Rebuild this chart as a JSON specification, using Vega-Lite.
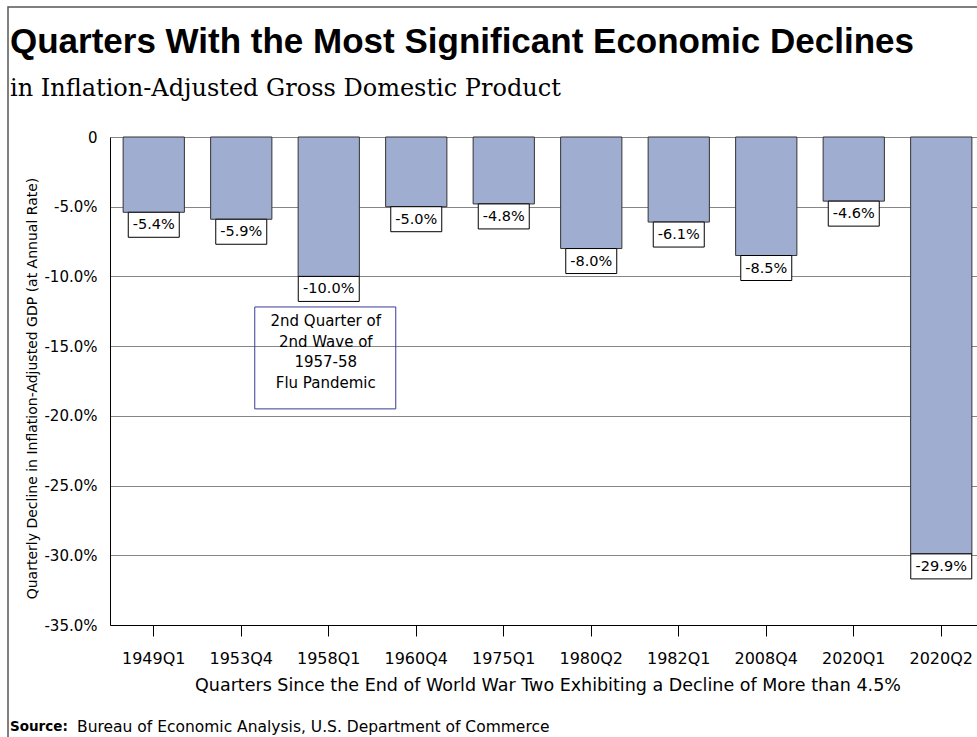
{
  "$schema": "https://vega.github.io/schema/vega-lite/v6.json",
  "width": 875,
  "height": 488,
  "autosize": {"type": "none"},
  "padding": {"left": 110, "top": 137, "right": 0, "bottom": 112},
  "background": "white",
  "config": {
    "locale": {"number": {"decimal": ".", "thousands": ",", "grouping": [3], "currency": ["$", ""], "minus": "-"}},
    "view": {"stroke": null},
    "font": "DejaVu Sans"
  },
  "title": {
    "text": "Quarters With the Most Significant Economic Declines",
    "subtitle": "in Inflation-Adjusted Gross Domestic Product",
    "anchor": "start",
    "frame": "group",
    "dx": -100,
    "offset": -95,
    "font": "Liberation Sans",
    "fontSize": 35,
    "fontWeight": "bold",
    "color": "black",
    "subtitleFont": "DejaVu Serif",
    "subtitleFontSize": 24,
    "subtitleColor": "black",
    "subtitlePadding": 17
  },
  "data": {
    "values": [
      {"quarter": "1949Q1", "decline": -0.054},
      {"quarter": "1953Q4", "decline": -0.059},
      {"quarter": "1958Q1", "decline": -0.100},
      {"quarter": "1960Q4", "decline": -0.050},
      {"quarter": "1975Q1", "decline": -0.048},
      {"quarter": "1980Q2", "decline": -0.080},
      {"quarter": "1982Q1", "decline": -0.061},
      {"quarter": "2008Q4", "decline": -0.085},
      {"quarter": "2020Q1", "decline": -0.046},
      {"quarter": "2020Q2", "decline": -0.299}
    ]
  },
  "encoding": {
    "x": {
      "field": "quarter",
      "type": "nominal",
      "sort": null,
      "scale": {"paddingInner": 0.3, "paddingOuter": 0.15},
      "axis": {
        "title": "Quarters Since the End of World War Two Exhibiting a Decline of More than 4.5%",
        "labelAngle": 0,
        "labelFont": "DejaVu Sans",
        "labelFontSize": 16,
        "labelColor": "black",
        "labelPadding": 14,
        "ticks": true,
        "tickSize": 11,
        "tickColor": "black",
        "domainColor": "black",
        "titleFont": "DejaVu Sans",
        "titleFontSize": 17.5,
        "titleFontWeight": "normal",
        "titleColor": "black",
        "titlePadding": 10
      }
    }
  },
  "layer": [
    {
      "mark": {"type": "bar", "fill": "#9eadd0", "stroke": "#333333", "strokeWidth": 1},
      "encoding": {
        "y": {
          "field": "decline",
          "type": "quantitative",
          "scale": {"domain": [-0.35, 0], "nice": false},
          "axis": {
            "title": "Quarterly Decline in Inflation-Adjusted GDP (at Annual Rate)",
            "values": [0, -0.05, -0.1, -0.15, -0.2, -0.25, -0.3, -0.35],
            "format": ".1%",
            "labelExpr": "datum.value === 0 ? '0' : datum.label",
            "labelFont": "DejaVu Sans",
            "labelFontSize": 15,
            "labelColor": "black",
            "labelPadding": 13,
            "ticks": false,
            "domainColor": "black",
            "grid": true,
            "gridColor": "#868686",
            "gridWidth": 1,
            "titleFont": "DejaVu Sans",
            "titleFontSize": 14,
            "titleFontWeight": "normal",
            "titleColor": "black",
            "titleX": -78,
            "titleY": 251,
            "titleBaseline": "middle"
          }
        }
      }
    },
    {
      "mark": {"type": "bar", "fill": "white", "stroke": "black", "strokeWidth": 1, "y2Offset": 25},
      "encoding": {
        "y": {"field": "decline", "type": "quantitative"},
        "y2": {"field": "decline"},
        "size": {"condition": {"test": "datum.decline <= -0.0995", "value": 61}, "value": 51}
      }
    },
    {
      "mark": {"type": "text", "baseline": "middle", "dy": 13, "font": "DejaVu Sans", "fontSize": 14.5, "color": "black"},
      "encoding": {
        "y": {"field": "decline", "type": "quantitative"},
        "text": {"field": "decline", "type": "quantitative", "format": ".1%"}
      }
    },
    {
      "data": {"values": [{"quarter": "1958Q1", "top": -0.1219, "bottom": -0.195}]},
      "mark": {"type": "bar", "width": 141, "xOffset": -3.5, "fill": "transparent", "stroke": "#3a3a96", "strokeWidth": 1},
      "encoding": {
        "x": {"field": "quarter", "type": "nominal", "sort": null},
        "y": {"field": "top", "type": "quantitative"},
        "y2": {"field": "bottom"}
      }
    },
    {
      "data": {"values": [{"quarter": "1958Q1", "first": -0.132, "note": ["2nd Quarter of", "2nd Wave of", "1957-58", "Flu Pandemic"]}]},
      "mark": {"type": "text", "baseline": "middle", "align": "center", "xOffset": -3, "lineHeight": 20.5, "font": "DejaVu Sans", "fontSize": 15, "color": "black"},
      "encoding": {
        "x": {"field": "quarter", "type": "nominal", "sort": null},
        "y": {"field": "first", "type": "quantitative"},
        "text": {"field": "note"}
      }
    },
    {
      "data": {"values": [{"source": "Source:"}]},
      "mark": {"type": "text", "align": "left", "baseline": "middle", "font": "DejaVu Sans", "fontSize": 13.5, "fontWeight": "bold", "color": "black"},
      "encoding": {
        "x": {"value": -100},
        "y": {"value": 590},
        "text": {"field": "source"}
      }
    },
    {
      "data": {"values": [{"source": "Bureau of Economic Analysis, U.S. Department of Commerce"}]},
      "mark": {"type": "text", "align": "left", "baseline": "middle", "font": "DejaVu Sans", "fontSize": 15.5, "color": "black"},
      "encoding": {
        "x": {"value": -33},
        "y": {"value": 590},
        "text": {"field": "source"}
      }
    },
    {
      "data": {"values": [{"frame": 1}]},
      "mark": {"type": "rect", "fill": "transparent", "stroke": "#555555", "strokeWidth": 1.5},
      "encoding": {
        "x": {"value": -102},
        "x2": {"value": 1000},
        "y": {"value": -130},
        "y2": {"value": 700}
      }
    }
  ]
}
